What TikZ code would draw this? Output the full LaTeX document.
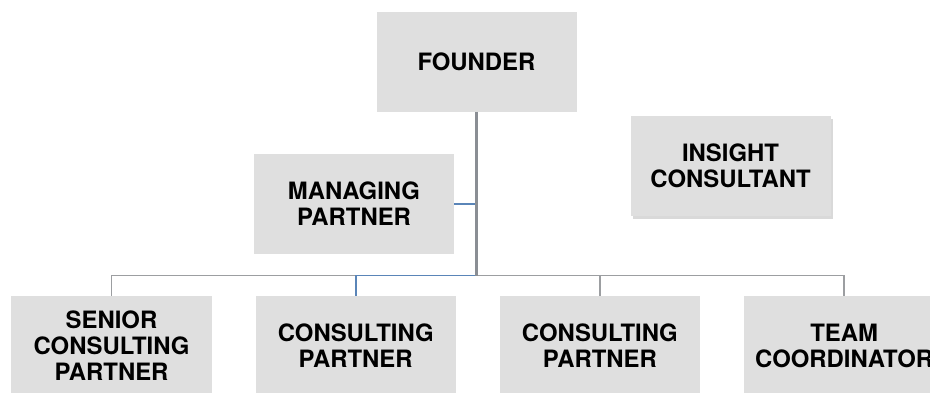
\documentclass[tikz,border=0pt]{standalone}
\usepackage{fontspec}
\setmainfont{TeX Gyre Heros}
\usetikzlibrary{positioning, shadows}
\definecolor{boxgray}{HTML}{DFDFDF}
\definecolor{linegray}{HTML}{9C9EA1}
\definecolor{trunkgray}{HTML}{8A8E94}
\definecolor{linkblue}{HTML}{5A85B8}

\begin{document}
\begin{tikzpicture}[
		box/.style={fill=boxgray, minimum width=4cm, minimum height=2cm, align=center, inner sep=0pt, font=\fontsize{13.6}{14.8}\selectfont\bfseries},
		link/.style={color=linegray, line width=1.1pt},
		bluelink/.style={color=linkblue, line width=1.1pt}]
		\useasboundingbox (0,0) rectangle (18.6,7.84);
		% top of the chart
		\node [box] (founder) at (9.53,6.61) {FOUNDER};
		\node [box] (managing) at (7.08,3.76) {MANAGING\\PARTNER};
		\node [box, drop shadow={opacity=0.3, shadow xshift=0.05cm, shadow yshift=-0.06cm}] (insight) at (14.61,4.53) {INSIGHT\\CONSULTANT};
		% bottom row
		\node [box] (senior) at (2.23,0.92) {SENIOR\\CONSULTING\\PARTNER};
		\node [box, right=0.87cm of senior] (consultA) {CONSULTING\\PARTNER};
		\node [box, right=0.87cm of consultA] (consultB) {CONSULTING\\PARTNER};
		\node [box, right=0.87cm of consultB] (coordinator) {TEAM\\COORDINATOR};
		\coordinate (hub) at (9.53,2.33);
		% connectors
		\draw [link] (hub) -| (senior.north);
		\draw [link] (hub) -| (consultB.north);
		\draw [link] (hub) -| (coordinator.north);
		\draw [bluelink] (hub) -| (consultA.north);
		\draw [bluelink] (managing.east) -- (managing.east -| hub);
		\draw [color=trunkgray, line width=1.5pt] (founder.south) -- (hub);
	\end{tikzpicture}
\end{document}
